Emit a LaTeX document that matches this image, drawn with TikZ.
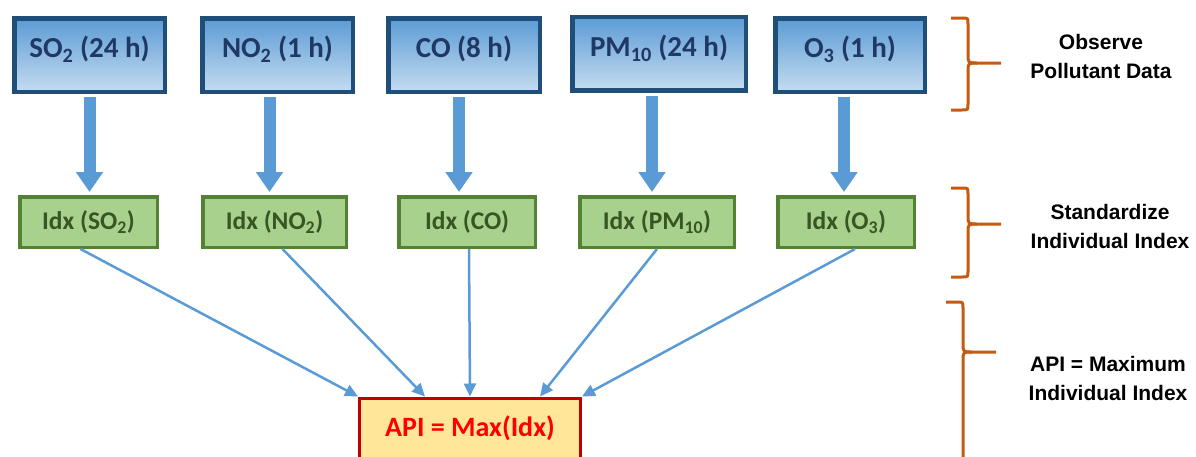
\documentclass[tikz,border=0pt]{standalone}
\usepackage{fontspec}
\setmainfont{Carlito}
\newfontfamily\lblfont{Liberation Sans}
\usetikzlibrary{arrows.meta}

\definecolor{obsnavy}{HTML}{1F4E79}
\definecolor{obstext}{HTML}{1F3864}
\definecolor{obstop}{HTML}{5B9BD5}
\definecolor{obsbot}{HTML}{C5DCF0}
\definecolor{idxfill}{HTML}{A9D18E}
\definecolor{idxline}{HTML}{548235}
\definecolor{idxtext}{HTML}{375623}
\definecolor{apifill}{HTML}{FFE699}
\definecolor{apiline}{HTML}{C00000}
\definecolor{braceorange}{HTML}{C55A11}

\tikzset{
  obsbox/.style={draw=obsnavy, line width=4.5pt, top color=obstop, bottom color=obsbot,
    minimum width=#1, minimum height=73.5pt, text=obstext, text depth=16pt,
    font=\bfseries\fontsize{29}{32}\selectfont},
  idxbox/.style={draw=idxline, line width=3.5pt, fill=idxfill,
    minimum width=#1, minimum height=50.5pt, text=idxtext,
    font=\bfseries\fontsize{25.5}{28}\selectfont},
  apibox/.style={draw=apiline, line width=3pt, fill=apifill,
    minimum width=221pt, minimum height=60pt, text=red,
    font=\bfseries\fontsize{28}{32}\selectfont},
  downarrow/.style={draw=obstop, line width=12pt, -{Triangle[width=26pt,length=20pt]}},
  toapi/.style={draw=obstop, line width=2.5pt, -{Triangle[width=12pt,length=13pt]}},
  grpbrace/.style={draw=braceorange, line width=3pt},
  steplabel/.style={align=center, font=\lblfont\bfseries\fontsize{21}{29}\selectfont}
}

\begin{document}
\begin{tikzpicture}[x=1pt, y=-1pt]
    
    \useasboundingbox (0,0) rectangle (1196,456);
    \clip (0,0) rectangle (1196,456);
    
    \node[obsbox=150.5pt] (tso) at (89.5,55)  {SO\textsubscript{2} (24 h)};
    \node[obsbox=150.5pt] (tno) at (277.5,55) {NO\textsubscript{2} (1 h)};
    \node[obsbox=151.5pt] (tco) at (464,55)   {CO (8 h)};
    \node[obsbox=173.5pt] (tpm) at (659,53.5) {PM\textsubscript{10} (24 h)};
    \node[obsbox=149.5pt] (toz) at (850,55)   {O\textsubscript{3} (1 h)};
    
    \node[idxbox=137.5pt] (iso) at (88.5,222) {Idx (SO\textsubscript{2})};
    \node[idxbox=143.5pt] (ino) at (274.5,222) {Idx (NO\textsubscript{2})};
    \node[idxbox=136.5pt] (ico) at (467,222)  {Idx (CO)};
    \node[idxbox=154.5pt] (ipm) at (657,222)  {Idx (PM\textsubscript{10})};
    \node[idxbox=136.5pt] (ioz) at (846,222)  {Idx (O\textsubscript{3})};
    
    \node[apibox] (api) at (470,428) {API = Max(Idx)};
    
    \foreach \n/\dx in {so/0,no/-8,co/-5,pm/-7,oz/-6} {
    \coordinate (a\n) at ([xshift=\dx pt]t\n.south);
    \draw[downarrow, shorten <=3pt, shorten >=3pt] (a\n) -- (a\n |- i\n.north);
    }
    
    \foreach \n/\sx/\ex in {so/-8/-112,no/8/-45,co/2/0,pm/0/70,oz/9/112}
    \draw[toapi] ([xshift=\sx pt]i\n.south) -- ([xshift=\ex pt]api.north);
    
    \foreach \t/\m/\b/\v in {18/63/110/968,188/224/277/968,302/352/520/963} {
    \draw[grpbrace] (\v-17,\t) -- (\v-6,\t) .. controls (\v,\t) .. (\v,\t+6)
    -- (\v,\m-9) .. controls (\v,\m) .. (\v+9,\m) -- (\v+33,\m);
    \draw[grpbrace] (\v-17,\b) -- (\v-6,\b) .. controls (\v,\b) .. (\v,\b-6)
    -- (\v,\m+9) .. controls (\v,\m) .. (\v+9,\m);
    }
    
    \node[steplabel] (lobs) at (1101,56)  {Observe\\Pollutant Data};
    \node[steplabel] (lstd) at (1110,226) {Standardize\\Individual Index};
    \node[steplabel] (lapi) at (1108,378) {API = Maximum\\Individual Index};
   
\end{tikzpicture}
\end{document}
